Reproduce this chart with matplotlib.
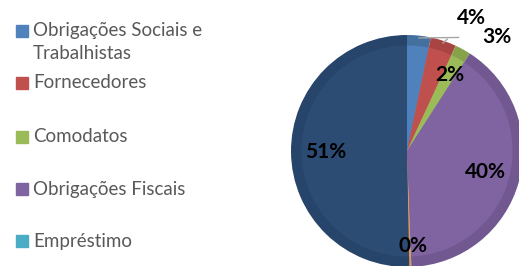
import matplotlib.pyplot as plt
import matplotlib.patches as mpatches
import numpy as np

# dados (%)
categorias = ["Obrigações Sociais e\nTrabalhistas", "Fornecedores", "Comodatos",
              "Obrigações Fiscais", "Empréstimo", "Outros", "Demais"]
valores = [3.3, 3.6, 2.2, 40.3, 0.05, 0.25, 50.3]
rotulos = ["3%", "4%", "2%", "40%", "0%", "", "51%"]
cores = ["#4F81BD", "#C0504D", "#9BBB59", "#8064A2", "#4BACC6", "#F79646", "#2C4C74"]
bordas = ["#44709F", "#A84543", "#86A34C", "#715891", "#3F97AE", "#D98338", "#27446A"]

plt.rcParams['font.family'] = ['Lato', 'DejaVu Sans']

fig = plt.figure(figsize=(5.19, 2.66), dpi=100)
ax = fig.add_axes([0, 0, 1, 1])

cx, cy, r = 407, 266 - 151, 116

# anel externo mais escuro (efeito de bisel) + miolo
ax.pie(valores, colors=bordas, startangle=90, counterclock=False,
       center=(cx, cy), radius=r, wedgeprops=dict(linewidth=0))
ax.pie(valores, colors=cores, startangle=90, counterclock=False,
       center=(cx, cy), radius=r * 0.91, wedgeprops=dict(linewidth=0))

ax.set_xlim(0, 519)
ax.set_ylim(0, 266)
ax.set_aspect('auto')
ax.axis('off')

fs = 15
total = sum(valores)
acum = 0
for i, v in enumerate(valores):
    meio = acum + v / 2
    acum += v
    ang = np.deg2rad(90 - 360 * meio / total)
    txt = rotulos[i]
    if not txt:
        continue
    ponta = (cx + r * 0.98 * np.cos(ang), cy + r * 0.98 * np.sin(ang))
    if i == 0:
        ax.annotate(txt, xy=ponta, xytext=(497, 266 - 37), ha='center', va='center',
                    fontsize=fs, fontweight='bold',
                    arrowprops=dict(arrowstyle='-', color='#A6A6A6', lw=1,
                                    shrinkA=15, shrinkB=0))
    elif i == 1:
        ax.annotate(txt, xy=ponta, xytext=(471, 266 - 18), ha='center', va='center',
                    fontsize=fs, fontweight='bold',
                    arrowprops=dict(arrowstyle='-', color='#A6A6A6', lw=1,
                                    shrinkA=9, shrinkB=0))
    elif i == 2:
        ax.text(cx + 43, cy + 76, txt, ha='center', va='center',
                fontsize=fs, fontweight='bold')
    elif i == 4:
        ax.text(cx + 6, cy - 95, txt, ha='center', va='center',
                fontsize=fs, fontweight='bold')
    else:
        d = 0.70 * r
        ax.text(cx + d * np.cos(ang), cy + d * np.sin(ang), txt,
                ha='center', va='center', fontsize=fs, fontweight='bold')

# legenda manual (so as 5 primeiras entradas cabem)
linhas_y = [31, 83, 137, 189, 241]
for i, y in enumerate(linhas_y):
    fig.patches.append(mpatches.Rectangle((16 / 519, 1 - (y + 6) / 266), 12 / 519, 12 / 266,
                                          transform=fig.transFigure, color=cores[i]))
    fig.text(33 / 519, 1 - y / 266, categorias[i], ha='left', va='top' if i == 0 else 'center',
             fontsize=13.5, color='#595959', linespacing=1.45)
fig.texts[0].set_y(1 - 22 / 266)

fig.savefig("out.png", dpi=100)
